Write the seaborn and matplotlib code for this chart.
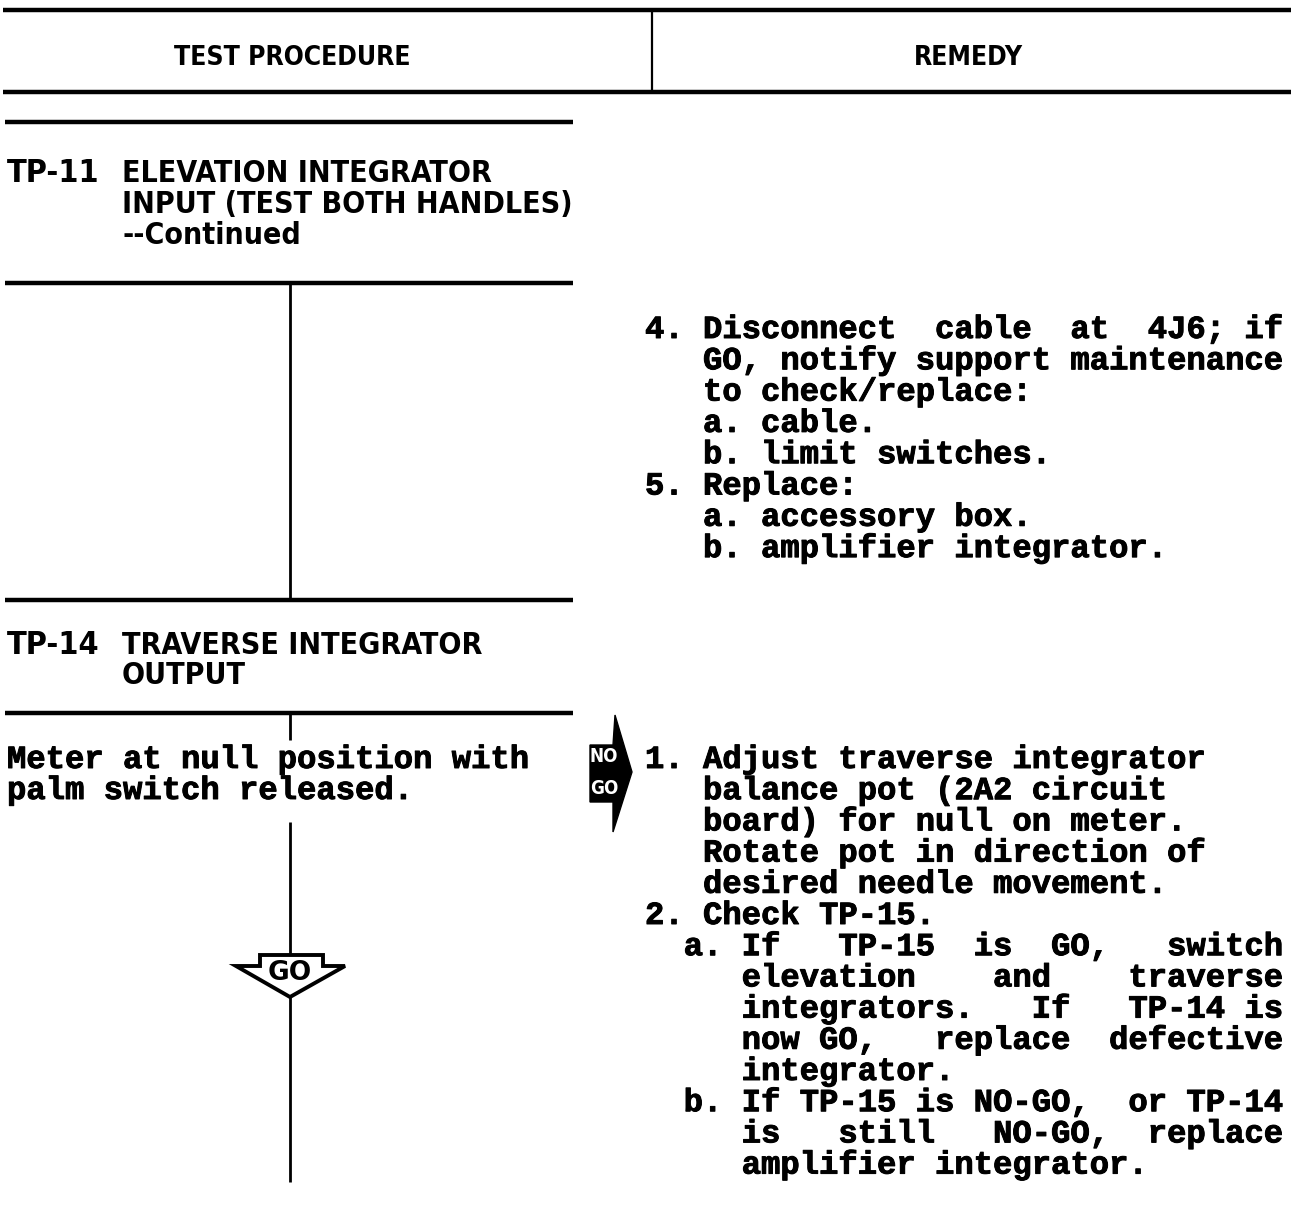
import numpy as np
import pandas as pd
import seaborn as sns
import matplotlib.pyplot as plt
import matplotlib.patheffects as pe
from matplotlib import font_manager as fm
from matplotlib.patches import Polygon

sns.set_theme(style="white")

# page content (top-down), a typewritten troubleshooting table
header_left = "TEST PROCEDURE"
header_right = "REMEDY"

tp11_label = "TP-11"
tp11_lines = ["ELEVATION INTEGRATOR", "INPUT (TEST BOTH HANDLES)", "--Continued"]
tp14_label = "TP-14"
tp14_lines = ["TRAVERSE INTEGRATOR", "OUTPUT"]

procedure_lines = ["Meter at null position with", "palm switch released."]

remedy_tp11 = [
    "4. Disconnect  cable  at  4J6; if",
    "   GO, notify support maintenance",
    "   to check/replace:",
    "   a. cable.",
    "   b. limit switches.",
    "5. Replace:",
    "   a. accessory box.",
    "   b. amplifier integrator.",
]
remedy_tp14 = [
    "1. Adjust traverse integrator",
    "   balance pot (2A2 circuit",
    "   board) for null on meter.",
    "   Rotate pot in direction of",
    "   desired needle movement.",
    "2. Check TP-15.",
    "  a. If   TP-15  is  GO,   switch",
    "     elevation    and    traverse",
    "     integrators.   If   TP-14 is",
    "     now GO,   replace  defective",
    "     integrator.",
    "  b. If TP-15 is NO-GO,  or TP-14",
    "     is   still   NO-GO,  replace",
    "     amplifier integrator.",
]

# horizontal rules of the left column and the table head
full_rules = [10, 92]
left_rules = [122, 283, 600, 713]
# flow line segments on the left column (start, end)
flow_segments = [(283, 600), (713, 740), (822, 955), (997, 1182)]

# pick a condensed face for the block capitals if one is installed
cond = {}
for f in fm.fontManager.ttflist:
    if f.name == "DejaVu Sans" and "ondensed" in str(f.stretch) and f.weight in ("bold", 700):
        cond = dict(family="DejaVu Sans", stretch="condensed", weight="bold")
        break
if not cond:
    names = {f.name for f in fm.fontManager.ttflist}
    if "Liberation Sans Narrow" in names:
        cond = dict(family="Liberation Sans Narrow", weight="bold")
    else:
        cond = dict(family="DejaVu Sans", weight="bold")
narrow = cond.get("family") != "DejaVu Sans" or "stretch" in cond
cap_size = 21.7 if narrow else 18.5
head_size = 19 if narrow else 16.5
ink = [pe.withStroke(linewidth=0.7, foreground="black")]
mono = dict(family="Liberation Mono", weight="bold", fontsize=23.2, color="black",
            path_effects=ink)

fig = plt.figure(figsize=(12.94, 12.10), dpi=100)
ax = fig.add_axes([0, 0, 1, 1])
ax.set_xlim(0, 1294)
ax.set_ylim(1210, 0)
ax.axis("off")

# table head
ax.hlines(full_rules, 3, 1291, color="black", lw=3.2)
ax.vlines(652, full_rules[0], full_rules[1], color="black", lw=1.6)
ax.text(292, 58, header_left, ha="center", va="center", fontsize=head_size,
        color="black", **cond)
ax.text(968, 58, header_right, ha="center", va="center", fontsize=head_size,
        color="black", **cond)

# left column rules and flow line
ax.hlines(left_rules, 5, 573, color="black", lw=3.2)
seg = pd.DataFrame(flow_segments, columns=["y0", "y1"])
ax.vlines([290] * len(seg), seg["y0"], seg["y1"], color="black", lw=2.0)

# test point headings
for label, lines, y0 in [(tp11_label, tp11_lines, 174), (tp14_label, tp14_lines, 645)]:
    ax.text(7, y0, label, ha="left", va="center", fontsize=cap_size + 1.5,
            color="black", **cond)
    for i, s in enumerate(lines):
        ax.text(122, y0 + i * 30.5, s, ha="left", va="center", fontsize=cap_size,
                color="black", **cond)

# procedure text
for i, s in enumerate(procedure_lines):
    ax.text(7, 760 + i * 31, s, ha="left", va="center", **mono)

# remedy text
for i, s in enumerate(remedy_tp11):
    ax.text(645, 330 + i * 31.3, s, ha="left", va="center", **mono)
for i, s in enumerate(remedy_tp14):
    ax.text(645, 760 + i * 31.2, s, ha="left", va="center", **mono)

# NO GO arrow
nogo = np.array([(590, 745), (613, 745), (615, 715), (632, 772),
                 (613, 832), (613, 802), (590, 802)])
ax.add_patch(Polygon(nogo, closed=True, facecolor="black", edgecolor="black", lw=1))
ax.text(604, 757, "NO", ha="center", va="center", color="white", fontsize=13.5, **cond)
ax.text(604, 788, "GO", ha="center", va="center", color="white", fontsize=13.5, **cond)

# GO arrow
go = np.array([(260, 955), (323, 955), (323, 966), (345, 966),
               (290, 997), (236, 966), (260, 966)])
ax.add_patch(Polygon(go, closed=True, facecolor="white", edgecolor="black", lw=2.8,
                     joinstyle="miter"))
ax.text(290, 973, "GO", ha="center", va="center", fontsize=19,
        family="DejaVu Sans", weight="bold", color="black")

fig.savefig("out.png", dpi=100, facecolor="white")
